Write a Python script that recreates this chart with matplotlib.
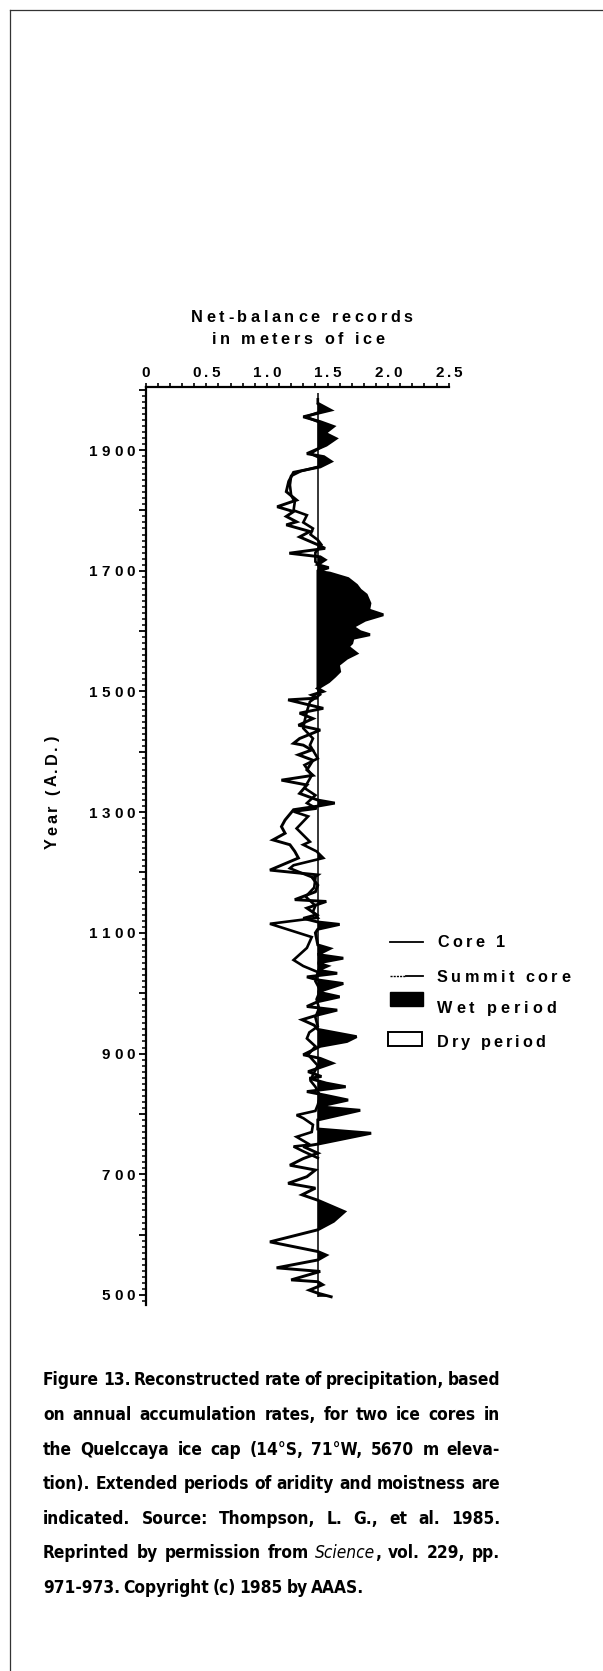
import re
import matplotlib
matplotlib.use('Agg')
import matplotlib.pyplot as plt
from matplotlib import font_manager
from matplotlib.font_manager import FontProperties
from matplotlib.ft2font import FT2Font
from matplotlib.transforms import IdentityTransform
from matplotlib.patches import Rectangle
from matplotlib.lines import Line2D
from matplotlib.ticker import MultipleLocator

W, H, DPI = 603, 1671, 100

# ---- data ----
BASELINE = 1.42

core1_year = [497, 503, 508, 517, 522, 525, 539, 545, 558, 566, 572, 588, 602, 608, 622, 638,
              650, 657, 666, 677, 685, 696, 707, 715, 726, 735, 746, 750, 768, 775, 790, 806,
              812, 823, 831, 837, 845, 851, 859, 862, 870, 884, 892, 898, 912, 920, 928, 940,
              947, 956, 964, 972, 978, 986, 994, 1002, 1016, 1022, 1027, 1033, 1038, 1045,
              1050, 1058, 1064, 1074, 1080, 1100, 1106, 1114, 1118, 1124, 1130, 1141, 1152,
              1155, 1168, 1179, 1190, 1196, 1204, 1218, 1224, 1235, 1246, 1254, 1265, 1276,
              1287, 1304, 1310, 1315, 1320, 1331, 1345, 1353, 1361, 1370, 1386, 1395, 1403,
              1411, 1414, 1422, 1431, 1436, 1444, 1455, 1464, 1472, 1486, 1489, 1494, 1500,
              1505, 1516, 1525, 1533, 1544, 1555, 1563, 1574, 1580, 1588, 1594, 1599, 1607,
              1618, 1627, 1635, 1646, 1660, 1668, 1676, 1687, 1696, 1699, 1705, 1710, 1718,
              1723, 1729, 1737, 1743, 1756, 1765, 1776, 1781, 1790, 1798, 1806, 1817, 1831,
              1848, 1863, 1872, 1881, 1889, 1894, 1908, 1919, 1928, 1939, 1947, 1955, 1966, 1977]
core1_val = [1.53, 1.42, 1.35, 1.46, 1.42, 1.20, 1.44, 1.08, 1.42, 1.49, 1.42, 1.025, 1.30, 1.42, 1.55, 1.64,
             1.50, 1.42, 1.29, 1.40, 1.175, 1.33, 1.40, 1.19, 1.30, 1.42, 1.30, 1.42, 1.86, 1.42, 1.42, 1.77,
             1.42, 1.67, 1.48, 1.33, 1.65, 1.49, 1.35, 1.45, 1.34, 1.54, 1.44, 1.30, 1.44, 1.66, 1.74, 1.42,
             1.39, 1.29, 1.42, 1.58, 1.33, 1.42, 1.60, 1.42, 1.63, 1.42, 1.33, 1.58, 1.42, 1.50,
             1.42, 1.63, 1.42, 1.52, 1.42, 1.40, 1.42, 1.60, 1.42, 1.30, 1.41, 1.33, 1.49,
             1.23, 1.40, 1.42, 1.38, 1.42, 1.025, 1.19, 1.26, 1.23, 1.19, 1.05, 1.15, 1.12,
             1.15, 1.22, 1.42, 1.56, 1.42, 1.27, 1.33, 1.12, 1.38, 1.33, 1.38, 1.26, 1.37,
             1.30, 1.22, 1.27, 1.38, 1.44, 1.26, 1.38, 1.27, 1.465, 1.175, 1.42, 1.37, 1.465,
             1.42, 1.51, 1.56, 1.60, 1.59, 1.66, 1.74, 1.67, 1.70, 1.71, 1.85, 1.77, 1.71,
             1.81, 1.96, 1.84, 1.85, 1.82, 1.77, 1.74, 1.67, 1.52, 1.42, 1.51, 1.42, 1.48,
             1.44, 1.185, 1.48, 1.42, 1.27, 1.355, 1.16, 1.245, 1.16, 1.22, 1.085, 1.245, 1.16,
             1.18, 1.22, 1.44, 1.53, 1.47, 1.33, 1.49, 1.57, 1.48, 1.55, 1.44, 1.30, 1.526, 1.424]

summit_year = [727, 738, 746, 749, 762, 770, 782, 793, 798, 805, 815, 830, 845, 855, 865, 880,
               898, 912, 925, 935, 945, 960, 975, 990, 1005, 1020, 1035, 1045, 1055, 1075, 1093,
               1115, 1125, 1135, 1145, 1160, 1175, 1190, 1198, 1207, 1212, 1224, 1235, 1246,
               1251, 1262, 1273, 1293, 1301, 1306, 1315, 1328, 1340, 1361, 1378, 1389, 1411,
               1422, 1439, 1450, 1467, 1483, 1495, 1505, 1700, 1705, 1715, 1730, 1743, 1751,
               1760, 1770, 1780, 1792, 1800, 1814, 1825, 1842, 1857, 1865, 1872, 1881, 1894,
               1908, 1919, 1928, 1939, 1947, 1955, 1966, 1977, 1984]
summit_val = [1.42, 1.30, 1.22, 1.355, 1.245, 1.37, 1.38, 1.30, 1.245, 1.40, 1.42, 1.44, 1.40, 1.36, 1.38, 1.42,
              1.34, 1.40, 1.33, 1.35, 1.42, 1.40, 1.43, 1.41, 1.44, 1.40, 1.42, 1.30, 1.22, 1.33, 1.37,
              1.025, 1.42, 1.38, 1.40, 1.32, 1.39, 1.40, 1.30, 1.19, 1.22, 1.465, 1.41, 1.30,
              1.355, 1.30, 1.245, 1.34, 1.22, 1.41, 1.33, 1.40, 1.31, 1.37, 1.31, 1.42, 1.355,
              1.38, 1.30, 1.31, 1.33, 1.355, 1.44, 1.42, 1.42, 1.46, 1.40, 1.40, 1.45, 1.42,
              1.36, 1.38, 1.30, 1.33, 1.22, 1.23, 1.20, 1.19, 1.20, 1.28, 1.42, 1.50, 1.36,
              1.47, 1.53, 1.47, 1.52, 1.42, 1.32, 1.48, 1.42, 1.42]

BASE_YEARS = (497, 1994)

XTICKS = [0, 0.5, 1.0, 1.5, 2.0, 2.5]
XTICK_LABELS = ['0', '0.5', '1.0', '1.5', '2.0', '2.5']
YTICKS = [500, 700, 900, 1100, 1300, 1500, 1700, 1900]
YTICK_LABELS = ['500', '700', '900', '1100', '1300', '1500', '1700', '1900']

TITLE = ['Net-balance records', 'in meters of ice']
YLABEL = 'Year (A.D.)'
LEGEND_LABELS = ['Core 1', 'Summit core', 'Wet period', 'Dry period']

CAPTION = [
    'Figure 13. Reconstructed rate of precipitation, based',
    'on annual accumulation rates, for two ice cores in',
    'the Quelccaya ice cap (14\u00b0S, 71\u00b0W, 5670 m eleva-',
    'tion). Extended periods of aridity and moistness are',
    'indicated. Source: Thompson, L. G., et al. 1985.',
    'Reprinted by permission from _Science_, vol. 229, pp.',
    '971-973. Copyright (c) 1985 by AAAS.',
]

fig = plt.figure(figsize=(W / DPI, H / DPI), dpi=DPI)
fig.patch.set_facecolor('white')

# ---- helpers for letter-spaced text ----
_fonts = {}


def advances(s, prop):
    path = font_manager.findfont(prop)
    if path not in _fonts:
        _fonts[path] = FT2Font(path)
    f = _fonts[path]
    f.set_size(prop.get_size_in_points(), DPI)
    return [f.load_char(ord(c)).linearHoriAdvance / 65536 for c in s]


def tracked(x, y, s, prop, track=0.0, width=None, ha='left', rotation=0):
    # x, y in display pixels (origin bottom-left), y is the baseline
    adv = advances(s, prop)
    if width is not None and len(s) > 1:
        track = (width - sum(adv)) / (len(s) - 1)
    total = sum(adv) + track * (len(s) - 1)
    pos = {'left': 0.0, 'center': -total / 2, 'right': -total}[ha]
    dx, dy = (1, 0) if rotation == 0 else (0, 1)
    for ch, a in zip(s, adv):
        if ch != ' ':
            fig.text(x + dx * pos, y + dy * pos, ch, fontproperties=prop,
                     transform=IdentityTransform(), ha='left', va='baseline',
                     rotation=rotation, rotation_mode='anchor', color='black')
        pos += a + track


def top(y):
    return H - y


# ---- axes ----
ax = fig.add_axes([145.7 / W, 1 - 1305 / H, 303.0 / W, 918 / H])
ax.set_xlim(0, 2.5)
ax.set_ylim(483.4, 2004.4)
for side in ['right', 'bottom']:
    ax.spines[side].set_visible(False)
for side in ['left', 'top']:
    ax.spines[side].set_linewidth(1.6)

ax.xaxis.tick_top()
ax.set_xticks(XTICKS)
ax.xaxis.set_minor_locator(MultipleLocator(0.1))
ax.set_yticks(list(range(500, 2001, 100)))
ax.yaxis.set_minor_locator(MultipleLocator(10))
ax.tick_params(axis='x', which='both', direction='out', length=3, width=1.2,
               top=True, bottom=False, labeltop=False, labelbottom=False)
ax.tick_params(axis='y', which='major', direction='out', length=5, width=1.3,
               left=True, right=False, labelleft=False)
ax.tick_params(axis='y', which='minor', direction='out', length=3.2, width=1.1)

# wet periods filled black
for yy, vv in [(core1_year, core1_val), (summit_year, summit_val)]:
    ax.fill_betweenx(yy, BASELINE, vv, where=[v > BASELINE for v in vv],
                     interpolate=True, color='black', linewidth=0)

ax.vlines(BASELINE, BASE_YEARS[0], BASE_YEARS[1], color='black', linewidth=1.1)
ax.plot(summit_val, summit_year, color='black', linewidth=1.9, solid_joinstyle='miter')
ax.plot(core1_val, core1_year, color='black', linewidth=2.1, solid_joinstyle='miter')

# ---- axis text ----
lab = FontProperties(family='Liberation Sans', weight='bold', size=11.0)
for v, s in zip(XTICKS, XTICK_LABELS):
    xd = ax.transData.transform((v, 1000))[0]
    tracked(xd, top(377), s, lab, track=3.0, ha='center')
for yr, s in zip(YTICKS, YTICK_LABELS):
    yd = ax.transData.transform((0, yr))[1]
    tracked(135, yd - 5.5, s, lab, track=4.0, ha='right')

ttl = FontProperties(family='Liberation Sans', weight='bold', size=11.7)
tracked(302, top(322), TITLE[0], ttl, width=222, ha='center')
tracked(298, top(344), TITLE[1], ttl, width=173, ha='center')

tracked(57, top(793), YLABEL, ttl, width=112, ha='center', rotation=90)

# ---- legend ----
fig.add_artist(Line2D([390, 423], [top(942), top(942)], transform=IdentityTransform(),
                      color='black', linewidth=1.3))
fig.add_artist(Line2D([390, 406], [top(976), top(976)], transform=IdentityTransform(),
                      color='black', linewidth=1.0, linestyle=(0, (1.5, 0.8))))
fig.add_artist(Line2D([406, 423], [top(976), top(976)], transform=IdentityTransform(),
                      color='black', linewidth=1.3))
fig.add_artist(Rectangle((390, top(1006)), 33, 14, transform=IdentityTransform(),
                         facecolor='black', edgecolor='black'))
fig.add_artist(Rectangle((388, top(1046)), 34, 14, transform=IdentityTransform(),
                         facecolor='white', edgecolor='black', linewidth=1.4))
for lbl, yb, wd in zip(LEGEND_LABELS, [947, 982, 1013, 1047], [68, 133, 119, 108]):
    tracked(437, top(yb), lbl, ttl, width=wd)


# ---- caption (justified) ----
def weight_num(w):
    if isinstance(w, str):
        return font_manager.weight_dict.get(w, 400)
    return w


def find_narrow(want_bold, want_italic):
    hits = []
    for f in font_manager.fontManager.ttflist:
        key = (f.name + ' ' + f.fname).lower()
        if 'mono' in key or 'serif' in key:
            continue
        narrow = ('narrow' in key or 'condensed' in key or
                  f.stretch in ('condensed', 'semi-condensed', 'extra-condensed'))
        if not narrow:
            continue
        bold = weight_num(f.weight) >= 600
        italic = f.style in ('italic', 'oblique')
        if bold == want_bold and italic == want_italic:
            hits.append(f.fname)
    return sorted(hits)[0] if hits else None


NARROW_BOLD = find_narrow(True, False)
NARROW_ITAL = find_narrow(False, True)

CAP_LEFT, CAP_RIGHT = 43, 500
cap_size = 15.2


def cap_prop(italic, size):
    if italic:
        if NARROW_ITAL:
            return FontProperties(fname=NARROW_ITAL, size=size)
        return FontProperties(family='Liberation Sans', style='italic', size=size)
    if NARROW_BOLD:
        return FontProperties(fname=NARROW_BOLD, size=size)
    return FontProperties(family='Liberation Sans', weight='bold', size=size)


def segments(word, size):
    out = []
    for i, part in enumerate(re.split('_', word)):
        if part:
            out.append((part, cap_prop(i % 2 == 1, size)))
    return out


def word_widths(line, size):
    return [sum(sum(advances(t, p)) for t, p in segments(w, size)) for w in line.split(' ')]


# shrink the font until every justified line fits with a small minimum gap
for _ in range(60):
    px = cap_size * DPI / 72
    if all(sum(ws) + 0.15 * px * (len(ws) - 1) <= CAP_RIGHT - CAP_LEFT
           for ws in (word_widths(l, cap_size) for l in CAPTION[:-1])):
        break
    cap_size -= 0.2

for i, line in enumerate(CAPTION):
    words = line.split(' ')
    ws = word_widths(line, cap_size)
    if i < len(CAPTION) - 1:
        gap = (CAP_RIGHT - CAP_LEFT - sum(ws)) / (len(words) - 1)
    else:
        gap = 0.2 * cap_size * DPI / 72
    x = CAP_LEFT
    yb = top(1385.4 + 34.6 * i)
    for w in words:
        for t, p in segments(w, cap_size):
            fig.text(x, yb, t, fontproperties=p, transform=IdentityTransform(),
                     ha='left', va='baseline', color='black')
            x += sum(advances(t, p))
        x += gap

# ---- page frame from the scan ----
fig.add_artist(Line2D([9.5, W], [top(10), top(10)], transform=IdentityTransform(),
                      color='#333333', linewidth=0.9))
fig.add_artist(Line2D([9.5, 9.5], [top(10), 0], transform=IdentityTransform(),
                      color='#333333', linewidth=0.9))

fig.savefig('out.png', dpi=DPI, facecolor='white')
